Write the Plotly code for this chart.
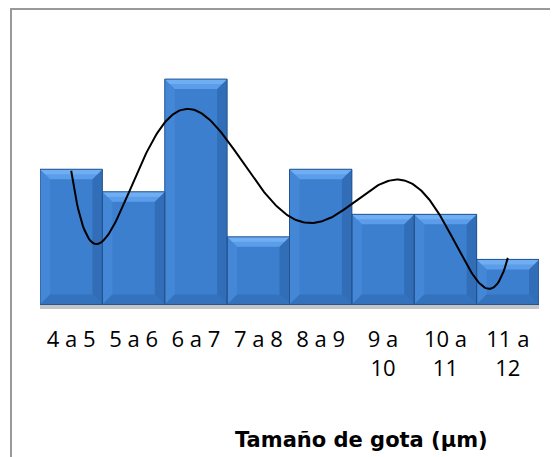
import numpy as np
import plotly.graph_objects as go

categories = ["4 a 5", "5 a 6", "6 a 7", "7 a 8", "8 a 9", "9 a<br>10", "10 a<br>11", "11 a<br>12"]
values = [6, 5, 10, 3, 6, 4, 4, 2]
x_title = "Tamaño de gota (µm)"

xs = np.arange(len(values))
W, H = 550, 449          # page body has an 8px margin
L, R, T, B = 32, 19, 26, 148
YMIN, YMAX = -0.2, 12
PW, PH = W - L - R, H - T - B
ux = PW / len(values)
uy = PH / (YMAX - YMIN)

fig = go.Figure()
# shadow under bars
fig.add_trace(go.Scatter(x=[-0.5, len(values) - 0.5, len(values) - 0.5, -0.5, -0.5],
                         y=[0, 0, YMIN, YMIN, 0], fill="toself", fillcolor="rgba(150,150,150,0.55)",
                         mode="lines", line=dict(width=0), hoverinfo="skip", showlegend=False))
fig.add_trace(go.Bar(x=xs, y=values, width=1.0, marker=dict(color="#3D7FCF", line=dict(width=0)),
                     hoverinfo="skip", showlegend=False))

# bevel polygons derived from data
dx = 10 / ux
dy = 10 / uy
sx, sy = 5 / ux, 5 / uy
polys = {"left": ([], [], "#4587D7"),
         "right": ([], [], "#326EB8"),
         "bottom": ([], [], "#3472BE"),
         "top": ([], [], "#5B9DE8"),
         "top2": ([], [], "#6FAEF3")}
for x, v in zip(xs, values):
    a, b = x - 0.5, x + 0.5
    shapes = {
        "top": ([a, b, b - dx, a + dx, a], [v, v, v - dy, v - dy, v]),
        "top2": ([a, b, b - sx, a + sx, a], [v, v, v - sy, v - sy, v]),
        "left": ([a, a + dx, a + dx, a, a], [v, v - dy, dy, 0, v]),
        "right": ([b, b - dx, b - dx, b, b], [v, v - dy, dy, 0, v]),
        "bottom": ([a, b, b - dx, a + dx, a], [0, 0, dy, dy, 0]),
    }
    for k, (px, py) in shapes.items():
        polys[k][0].extend(px + [None])
        polys[k][1].extend(py + [None])
for k, (px, py, c) in polys.items():
    fig.add_trace(go.Scatter(x=px, y=py, fill="toself", fillcolor=c, mode="lines", line=dict(width=0),
                             hoverinfo="skip", showlegend=False))
# bar outlines
ox, oy = [], []
for x, v in zip(xs, values):
    ox.extend([x - 0.5, x + 0.5, x + 0.5, x - 0.5, x - 0.5, None])
    oy.extend([0, 0, v, v, 0, None])
fig.add_trace(go.Scatter(x=ox, y=oy, mode="lines", line=dict(color="#24538F", width=1),
                         hoverinfo="skip", showlegend=False))

# polynomial trendline (order 6)
coef = np.polyfit(xs, values, 6)
xt = np.linspace(xs[0], xs[-1], 300)
fig.add_trace(go.Scatter(x=xt, y=np.polyval(coef, xt), mode="lines", line=dict(color="black", width=2),
                         hoverinfo="skip", showlegend=False))

fig.update_layout(
    width=W, height=H, margin=dict(l=L, r=R, t=T, b=B, autoexpand=False),
    paper_bgcolor="white", plot_bgcolor="white",
    xaxis=dict(range=[-0.5, len(values) - 0.5], tickvals=xs, ticktext=categories, showgrid=False,
               zeroline=False, showline=False, ticks="", ticklabelstandoff=15,
               tickfont=dict(family="Open Sans", size=22, color="black")),
    yaxis=dict(range=[YMIN, YMAX], visible=False),
    bargap=0,
    annotations=[dict(text="<b>" + x_title + "</b>", xref="paper", yref="paper",
                      x=(353 - L) / PW, y=(H - B - 432) / PH,
                      showarrow=False, xanchor="center", yanchor="middle",
                      font=dict(family="DejaVu Sans", size=21, color="black"))],
    shapes=[dict(type="rect", xref="paper", yref="paper",
                 x0=(3 - L) / PW, x1=1.3, y0=-1, y1=(H - B - 1) / PH,
                 line=dict(color="#999999", width=2), layer="below")],
)
fig.write_html("out.html")
